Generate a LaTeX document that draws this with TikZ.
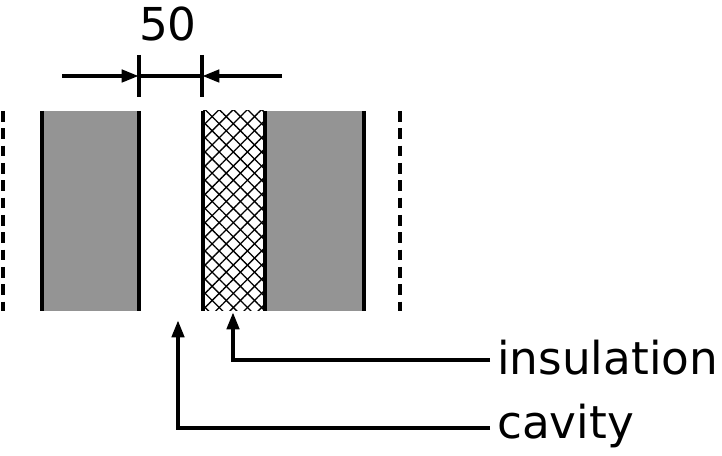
\documentclass[tikz,border=0pt]{standalone}
\usepackage{fontspec}
\setmainfont{DejaVu Sans}
\usetikzlibrary{patterns.meta,arrows.meta}
\tikzset{
  wall/.style={fill=black!42, draw=none},
  face/.style={line width=3.6pt},
  dashface/.style={line width=3.6pt, dash pattern=on 8pt off 5pt},
  dimline/.style={line width=3.2pt},
  lead/.style={line width=3.2pt},
  tip/.style={-{Triangle[length=13pt,width=9pt]}},
  lbl/.style={font=\fontsize{34}{36}\selectfont, inner sep=0pt}
}
\begin{document}
\begin{tikzpicture}[x=0.75pt, y=-0.75pt]
\useasboundingbox (0,0) rectangle (722,456);
% walls
\fill[wall] (41,111) rectangle (139,311);
\fill[wall] (265,111) rectangle (364,311);
\fill[pattern={Lines[angle=45,distance=7.5pt,line width=1pt]}] (203,111) rectangle (265,311);
\fill[pattern={Lines[angle=-45,distance=7.5pt,line width=1pt]}] (203,111) rectangle (265,311);
\coordinate (l1t) at (42,111);  \coordinate (l1b) at (42,311);
\coordinate (l2t) at (139,111); \coordinate (l2b) at (139,311);
\coordinate (r1t) at (203,111); \coordinate (r1b) at (203,311);
\coordinate (r2t) at (265,111); \coordinate (r2b) at (265,311);
\coordinate (r3t) at (364,111); \coordinate (r3b) at (364,311);
\foreach \a in {l1,l2,r1,r2,r3}
  \draw[face] (\a t) -- (\a b);
\draw[dashface] (3,111) -- (3,311);
\draw[dashface] (400,111) -- (400,311);
% dimension
\coordinate (dl) at (62,76);  \coordinate (dr) at (282,76);
\coordinate (ka) at (139,76); \coordinate (kb) at (202,76);
\draw[dimline] (139,55) -- (139,97);
\draw[dimline] (202,55) -- (202,97);
\draw[dimline] (ka) -- (kb);
\draw[dimline, tip] (dl) -- (ka);
\draw[dimline, tip] (dr) -- (kb);
\node[lbl] (dim) at (168,24) {50};
% leaders
\node[lbl, anchor=west] (ins) at (497,358) {insulation};
\node[lbl, anchor=west] (cav) at (497,426) {cavity};
\coordinate (pi) at (233,312); \coordinate (pc) at (178,320);
\draw[lead, tip] (ins.west) ++(-7,2) -| (pi);
\draw[lead, tip] (cav.west) ++(-7,2) -| (pc);
\end{tikzpicture}
\end{document}
